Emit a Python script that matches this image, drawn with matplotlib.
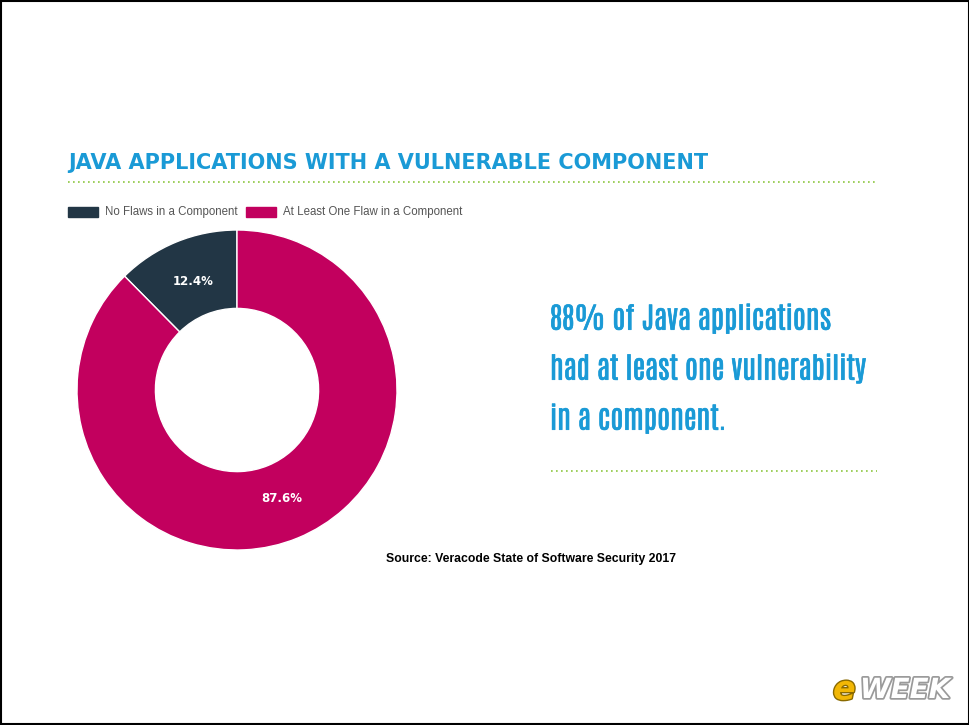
import matplotlib.pyplot as plt
import matplotlib.patheffects as pe
from matplotlib import font_manager as fm
from matplotlib.patches import Rectangle
from matplotlib.lines import Line2D

categories = ["No Flaws in a Component", "At Least One Flaw in a Component"]
shares = [12.4, 87.6]
colors = ["#223645", "#c2005e"]

title = "JAVA APPLICATIONS WITH A VULNERABLE COMPONENT"
callout = ["88% of Java applications",
           "had at least one vulnerability",
           "in a component."]
source = "Source: Veracode State of Software Security 2017"

installed = {f.name for f in fm.fontManager.ttflist}

def pick(*names):
    for n in names:
        if n in installed:
            return n
    return "DejaVu Sans"

callout_font = pick("Antonio", "Oswald", "DejaVu Sans")

W, H = 970, 725
fig = plt.figure(figsize=(W / 100, H / 100), dpi=100)
fig.patch.set_facecolor("white")

def fx(px):
    return px / W

def fy(py):
    return 1 - py / H

# donut
ax = fig.add_axes([fx(77), fy(550), 320 / W, 320 / H])
wedges, texts, autotexts = ax.pie(
    shares, colors=colors, startangle=90, counterclock=True,
    radius=1, autopct="%.1f%%", pctdistance=0.73,
    wedgeprops=dict(width=0.49, edgecolor="white", linewidth=1),
    textprops=dict(color="white", fontsize=8.5, fontweight="bold"))
ax.set_xlim(-1, 1)
ax.set_ylim(-1, 1)
ax.set_aspect("equal")
ax.axis("off")

# title
fig.text(fx(68), fy(163), title, color="#1a9ad6", fontsize=15,
         fontweight="heavy", va="center", ha="left")

green = "#8cc63f"
fig.add_artist(Line2D([fx(68), fx(877)], [fy(182), fy(182)], color=green,
                      linestyle=(0, (1, 2)), linewidth=1.2))
fig.add_artist(Line2D([fx(551), fx(877)], [fy(471), fy(471)], color=green,
                      linestyle=(0, (1, 2)), linewidth=1.2))

# legend
leg_x = [68, 246]
for x, lab, c in zip(leg_x, categories, colors):
    fig.add_artist(Rectangle((fx(x), fy(217)), 30 / W, 10 / H,
                             transform=fig.transFigure, color=c))
    fig.text(fx(x + 37), fy(212), lab, color="#555555", fontsize=8.3,
             family=["Liberation Sans", "DejaVu Sans"], va="center", ha="left")

# callout text
callout_size = 21 if callout_font != "DejaVu Sans" else 17
for i, line in enumerate(callout):
    fig.text(fx(550), fy(318 + 50 * i), line, color="#1a9ad6",
             fontsize=callout_size, family=[callout_font, "DejaVu Sans"],
             va="center", ha="left",
             path_effects=[pe.withStroke(linewidth=0.45, foreground="#1a9ad6")])

# source
fig.text(fx(531), fy(559), source, color="black", fontsize=8.8,
         fontweight="bold", family=["Liberation Sans", "DejaVu Sans"],
         ha="center", va="center")

# logo
fig.text(fx(833), fy(690), "e", color="#f2b705", fontsize=24,
         fontweight="heavy", style="italic", va="center", ha="left",
         path_effects=[pe.withStroke(linewidth=2, foreground="#8a6a00")])
fig.text(fx(860), fy(690), "WEEK", color="white", fontsize=20,
         fontweight="heavy", style="italic", va="center", ha="left",
         path_effects=[pe.withStroke(linewidth=2.5, foreground="#9a9a9a")])

# frame
fig.add_artist(Rectangle((0.001, 0.001), 0.998, 0.998, transform=fig.transFigure,
                         fill=False, edgecolor="black", linewidth=1.5))

fig.savefig("out.png", dpi=100)
